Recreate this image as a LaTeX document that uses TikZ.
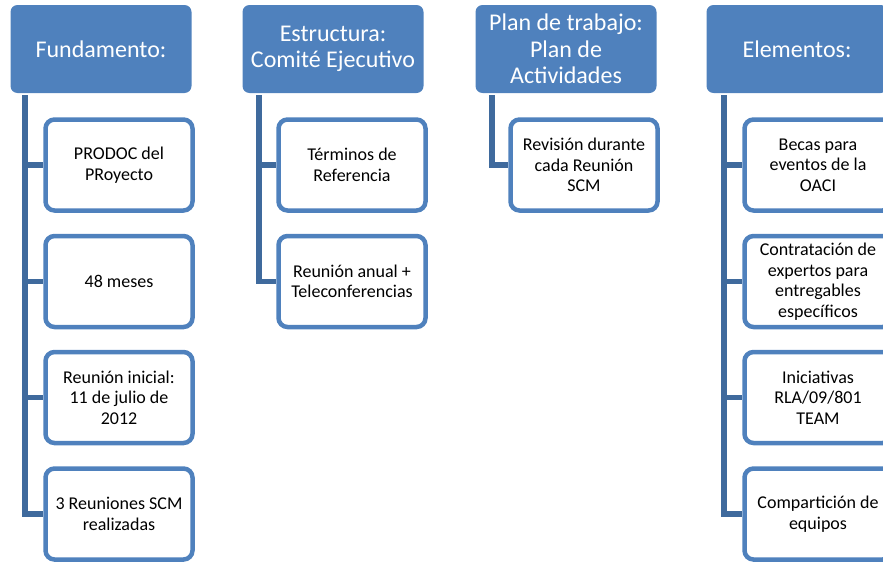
\documentclass[tikz,border=0pt]{standalone}
\usepackage{fontspec}
\setmainfont{Carlito}
\usetikzlibrary{backgrounds}
\definecolor{hdrblue}{HTML}{4F81BD}
\definecolor{linkblue}{HTML}{3F6A9D}
\begin{document}
\begin{tikzpicture}[x=1pt,y=-1pt,
  hdr/.style={fill=hdrblue,rounded corners=7pt,minimum width=181pt,minimum height=88pt,
    text=white,align=center,font=\fontsize{24}{26.5}\selectfont,inner sep=2pt},
  item/.style={draw=hdrblue,line width=4.5pt,fill=white,rounded corners=9pt,
    minimum width=147pt,minimum height=91pt,align=center,inner sep=2pt,
    font=\fontsize{18}{20.5}\selectfont,text=black},
  conn/.style={draw=linkblue,line width=5.5pt}]
\useasboundingbox (0,0) rectangle (883,562);
\clip (0,0) rectangle (883,562);
% headers
\node[hdr] (h1) at (101,49) {Fundamento:};
\node[hdr] (h2) at (333,49) {Estructura:\\Comité Ejecutivo};
\node[hdr] (h3) at (566,49) {Plan de trabajo:\\Plan de\\Actividades};
\node[hdr] (h4) at (797,49) {Elementos:};
% children
\node[item] (a1) at (119,165) {PRODOC del\\PRoyecto};
\node[item] (a2) at (119,281.5) {48 meses};
\node[item] (a3) at (119,397.5) {Reunión inicial:\\11 de julio de\\2012};
\node[item] (a4) at (119,514) {3 Reuniones SCM\\realizadas};
\node[item] (b1) at (352,165) {Términos de\\Referencia};
\node[item] (b2) at (352,281.5) {Reunión anual +\\Teleconferencias};
\node[item] (c1) at (584,165) {Revisión durante\\cada Reunión\\SCM};
\node[item] (d1) at (818,165) {Becas para\\eventos de la\\OACI};
\node[item] (d2) at (818,281.5) {Contratación de\\expertos para\\entregables\\específicos};
\node[item] (d3) at (818,397.5) {Iniciativas\\RLA/09/801\\TEAM};
\node[item] (d4) at (818,514) {Compartición de\\equipos};
% connector roots
\coordinate (r1) at (25,95);
\coordinate (r2) at (259,95);
\coordinate (r3) at (492,95);
\coordinate (r4) at (724,95);
\begin{pgfonlayer}{background}
\foreach \r/\c in {r1/a1,r1/a2,r1/a3,r1/a4,r2/b1,r2/b2,r3/c1,r4/d1,r4/d2,r4/d3,r4/d4}
  \draw[conn] (\r) |- (\c.west);
\end{pgfonlayer}
\end{tikzpicture}
\end{document}
